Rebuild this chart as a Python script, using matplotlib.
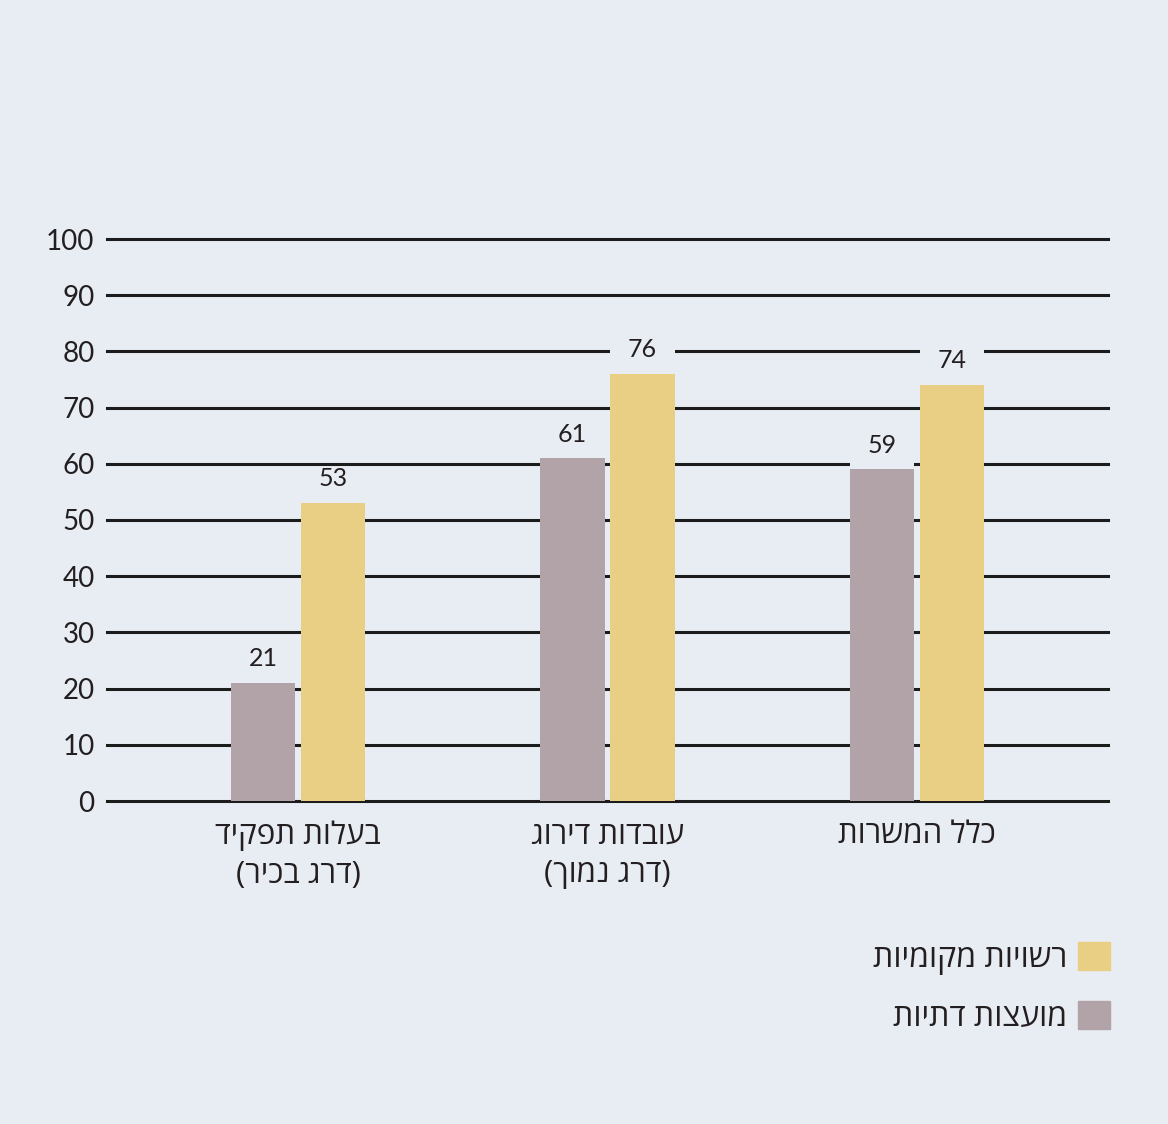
import numpy as np
import matplotlib
matplotlib.use('Agg')
from matplotlib import pyplot as plt
from matplotlib.patches import Patch

# data, in the order the groups appear left to right
categories = ['בעלות תפקיד\n(דרג בכיר)', 'עובדות דירוג\n(דרג נמוך)', 'כלל המשרות']
religious = [21, 61, 59]   # מועצות דתיות
local = [53, 76, 74]       # רשויות מקומיות
series_names = ['רשויות מקומיות', 'מועצות דתיות']
yticks = list(range(0, 101, 10))

bg = '#e8ecf3'
c_gray = '#b2a3a9'
c_yellow = '#e8cf84'
ink = '#231f20'
heb = ['Open Sans', 'Liberation Sans', 'DejaVu Sans']
num = ['Lato', 'DejaVu Sans']


def rtl(s):
    # matplotlib has no bidi, so flip each line by hand
    out = []
    for line in s.split('\n'):
        r = line[::-1]
        r = r.replace('(', '\0').replace(')', '(').replace('\0', ')')
        out.append(r)
    return '\n'.join(out)


fig = plt.figure(figsize=(11.68, 11.24), dpi=100, facecolor=bg)
ax = fig.add_axes([107 / 1168, 323 / 1124, 1001 / 1168, 562 / 1124])
ax.set_facecolor(bg)

x = np.arange(len(categories))
w = 0.207
off = 0.113

for y in yticks:
    ax.axhline(y, color='#1c1c1c', lw=2.2, clip_on=False, zorder=1)

ax.bar(x - off, religious, w, color=c_gray, zorder=3)
ax.bar(x + off, local, w, color=c_yellow, zorder=3)

# background strip above each bar so the grid does not run through the labels
for xs, vals in [(x - off, religious), (x + off, local)]:
    ax.bar(xs, [6.45] * len(vals), w, bottom=vals, color=bg, zorder=2)
    for xi, v in zip(xs, vals):
        ax.text(xi, v + 4.3, str(v), ha='center', va='center', fontsize=18,
                family=num, color=ink, zorder=4)

ax.set_xlim(-0.617, 2.617)
ax.set_ylim(0, 100)
ax.set_yticks(yticks)
ax.set_yticklabels([str(t) for t in yticks], family=num, fontsize=20, color=ink)
ax.set_xticks(x)
ax.set_xticklabels([rtl(c) for c in categories], family=heb, fontsize=22.5, color=ink)
for lbl in ax.get_xticklabels():
    lbl.set_linespacing(1.38)
ax.tick_params(axis='both', length=0)
ax.tick_params(axis='y', pad=9)
ax.tick_params(axis='x', pad=14)
for s in ax.spines.values():
    s.set_visible(False)

handles = [Patch(color=c_yellow), Patch(color=c_gray)]
fig.legend(handles, [rtl(n) for n in series_names], loc='upper right',
           bbox_to_anchor=(1139 / 1168, 1 - 913 / 1124), frameon=False,
           markerfirst=False, prop={'family': heb, 'size': 23},
           handlelength=1.0, handleheight=1.0, handletextpad=0.35,
           labelspacing=0.8, labelcolor=ink)

fig.savefig('out.png', dpi=100, facecolor=bg)
